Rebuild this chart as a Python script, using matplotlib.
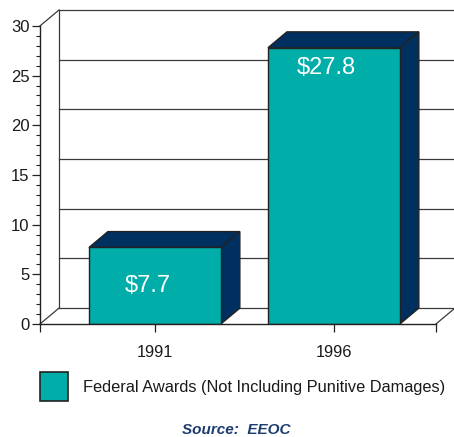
import matplotlib
matplotlib.use("Agg")
import matplotlib.pyplot as plt
from matplotlib.patches import Polygon, Patch
from matplotlib.ticker import FixedLocator

# ---- data ----
categories = ["1991", "1996"]
values = [7.7, 27.8]
value_labels = ["$7.7", "$27.8"]
series_name = "Federal Awards (Not Including Punitive Damages)"
source_text = "Source:  EEOC"

# ---- style ----
TEAL = "#00ADA9"
NAVY = "#00305F"
EDGE = "#222222"
GRID = "#3a3a3a"
SRC_COLOR = "#1C3C70"
FONT = ["Liberation Sans", "DejaVu Sans"]
plt.rcParams["font.family"] = FONT

W, H = 454, 437
fig = plt.figure(figsize=(W / 100, H / 100), dpi=100)

ax_l, ax_r, ax_b, ax_t = 40, 454, 324, 10   # pixel frame of axes
ax = fig.add_axes([ax_l / W, 1 - ax_b / H, (ax_r - ax_l) / W, (ax_b - ax_t) / H])

px_per_x = 179.0
x0 = -0.642
x1 = x0 + (ax_r - ax_l) / px_per_x
ymax = 30
DX = 0.106          # depth offset in x data units
DY = 1.6            # depth offset in y data units
floor_right = 1.57
bar_w = 0.737

ax.set_xlim(x0, x1)
ax.set_ylim(0, ymax + DY)

# back wall & floor frame
lkw = dict(color=GRID, lw=0.9, clip_on=False, zorder=1)
for g in range(5, ymax, 5):
    ax.plot([x0 + DX, x1], [g + DY, g + DY], **lkw)
ax.plot([x0 + DX, x1], [ymax + DY, ymax + DY], **lkw)
ax.plot([x0 + DX, x0 + DX], [DY, ymax + DY], **lkw)
ax.plot([x0, x0 + DX], [ymax, ymax + DY], **lkw)
ax.plot([x0, x0 + DX], [0, DY], **lkw)
ax.plot([x0 + DX, x1], [DY, DY], **lkw)
ax.plot([floor_right, floor_right + DX], [0, DY], **lkw)

# bars
positions = list(range(len(categories)))
for xi, v in zip(positions, values):
    l, r = xi - bar_w / 2, xi + bar_w / 2
    top = Polygon([(l, v), (l + DX, v + DY), (r + DX, v + DY), (r, v)],
                  closed=True, facecolor=NAVY, edgecolor=EDGE, lw=1.0, zorder=3)
    side = Polygon([(r, 0), (r, v), (r + DX, v + DY), (r + DX, DY)],
                   closed=True, facecolor=NAVY, edgecolor=EDGE, lw=1.0, zorder=3)
    ax.add_patch(top)
    ax.add_patch(side)
ax.bar(positions, values, width=bar_w, color=TEAL, edgecolor=EDGE, lw=1.0,
       zorder=4, label=series_name)

for xi, v, t in zip(positions, values, value_labels):
    ly = v - 2.0 if v > 15 else v / 2
    ax.text(xi - 0.04, ly, t, ha="center", va="center", color="white",
            fontsize=17, zorder=5)

# axes / ticks
for s in ["top", "right"]:
    ax.spines[s].set_visible(False)
ax.spines["left"].set_bounds(0, ymax)
ax.spines["bottom"].set_bounds(x0, floor_right)
for s in ["left", "bottom"]:
    ax.spines[s].set_color(EDGE)
    ax.spines[s].set_linewidth(1.0)
    ax.spines[s].set_zorder(6)

ax.set_yticks(range(0, ymax + 1, 5))
ax.set_yticks([v for v in range(0, ymax + 1) if v % 5], minor=True)
ax.tick_params(axis="y", which="major", direction="out", length=6, width=0.9,
               color=EDGE, labelsize=12, labelcolor="#1a1a1a", pad=1.5)
ax.tick_params(axis="y", which="minor", direction="out", length=3, width=0.8,
               color=EDGE)

ax.set_xticks(positions)
ax.set_xticklabels(categories)
ax.xaxis.set_minor_locator(FixedLocator([x0, floor_right]))
ax.tick_params(axis="x", which="both", direction="out", length=6, width=0.9,
               color=EDGE)
ax.tick_params(axis="x", which="major", labelsize=11.8, labelcolor="#1a1a1a", pad=9)

# legend
handle = Patch(facecolor=TEAL, edgecolor=EDGE, lw=1.2)
fig.legend([handle], [series_name], loc="upper left",
           bbox_to_anchor=(40 / W, 1 - 372 / H), frameon=False, fontsize=11.8,
           handlelength=1.7, handleheight=2.35, handletextpad=0.95,
           borderpad=0, borderaxespad=0, labelcolor="#1a1a1a")

fig.text(236 / W, 1 - 430 / H, source_text, ha="center", va="center",
         color=SRC_COLOR, fontsize=11, style="italic", fontweight="bold")

fig.savefig("out.png", dpi=100)
